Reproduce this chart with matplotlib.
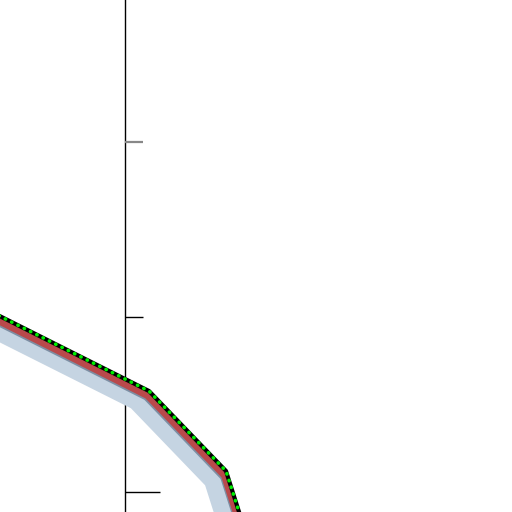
import matplotlib
matplotlib.use("Agg")
import matplotlib.pyplot as plt
import matplotlib.transforms as mtransforms

x = [-2.05, 0.24, 1.01, 1.42]
y = [1.234, 0.577, 0.12, -0.617]
yticks = [0, 1, 2]

fig = plt.figure(figsize=(5.12, 5.12), dpi=100)
ax = fig.add_axes([0, 0, 1, 1])
ax.set_xlim(-1.25, 3.87)
ax.set_ylim(-0.1143, 2.8114)

def off(dx, dy):
    return mtransforms.offset_copy(ax.transData, fig, x=dx, y=dy, units='dots')

ax.plot(x, y, color='#c5d4e2', lw=14.5, solid_joinstyle='miter', transform=off(-12, -9), zorder=1)
ax.plot(x, y, color='#7d8ea3', lw=4, transform=off(-3, -6.5), zorder=2)
ax.plot(x, y, color='#b9494b', lw=5, transform=off(-1.5, -4.5), zorder=3)
ax.plot(x, y, color='black', lw=3, zorder=4)
ax.plot(x, y, color='#00ee00', lw=2.6, linestyle=(0, (0.1, 1.85)),
        dash_capstyle='round', zorder=5)

for s in ['top', 'right', 'bottom']:
    ax.spines[s].set_visible(False)
ax.spines['left'].set_position(('data', 0))
ax.spines['left'].set_linewidth(1.0)
ax.spines['left'].set_zorder(0.5)
ax.set_xticks([])
ax.set_yticks(yticks)
ax.set_yticklabels([])
ax.tick_params(axis='y', direction='in', length=13, width=1.0)
ticks = ax.yaxis.get_major_ticks()
ticks[0].tick1line.set_markersize(25)
ticks[2].tick1line.set_markeredgecolor('#888888')
ticks[2].tick1line.set_markeredgewidth(1.6)

fig.savefig('out.png', dpi=100)
